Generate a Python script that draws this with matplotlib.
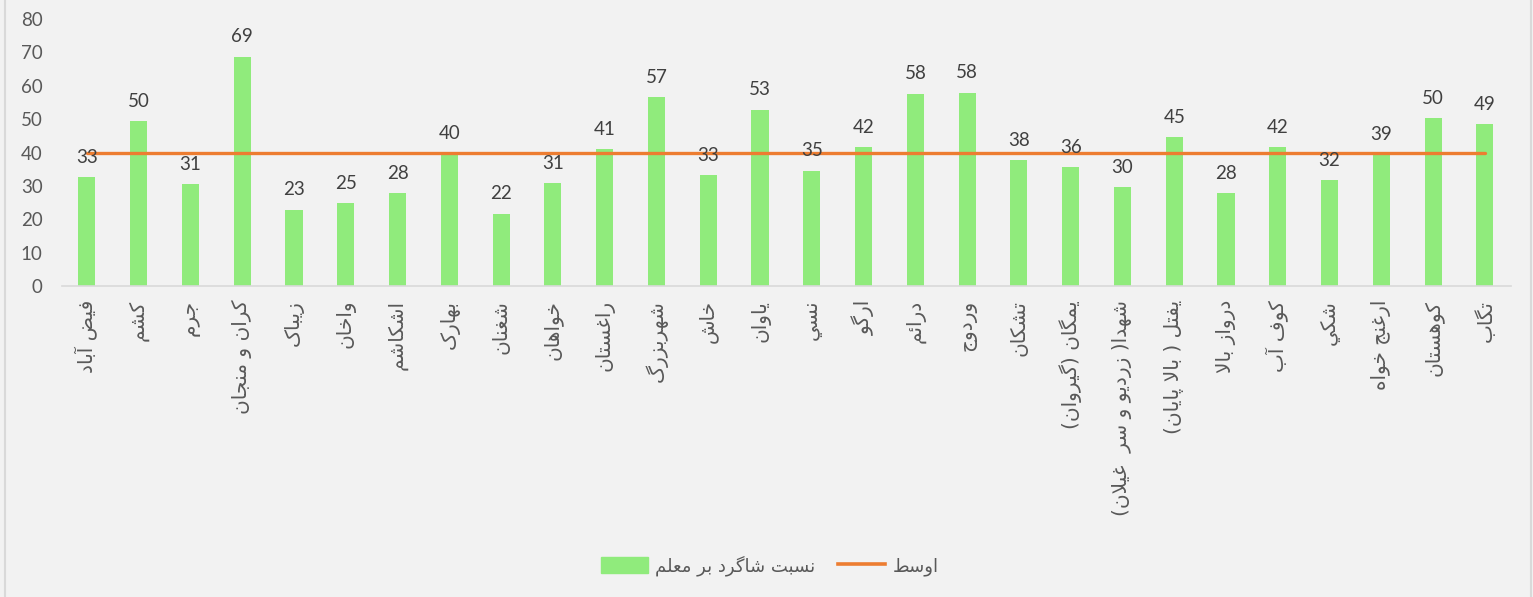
import numpy as np
import matplotlib
matplotlib.use('Agg')
import matplotlib.pyplot as plt
from matplotlib.lines import Line2D
from matplotlib.patches import Patch

# districts and ratio of students per teacher
districts = ['فیض آباد', 'کشم', 'جرم', 'کران و منجان', 'زیباک', 'واخان', 'اشکاشم',
             'بهارک', 'شغنان', 'خواهان', 'راغستان', 'شهربزرگ', 'خاش', 'یاوان',
             'نسي', 'ارگو', 'درائم', 'وردوج', 'تشکان', 'یمگان (گیروان)',
             'شهدا( زردیو و سر  غیلان)', 'یفتل ( بالا پایان)', 'درواز بالا',
             'کوف آب', 'شکي', 'ارغنج خواه', 'کوهستان', 'تگاب']
ratio = [32.7, 49.5, 30.6, 68.7, 22.9, 24.9, 27.9, 39.8, 21.7, 30.8, 41.1, 56.6,
         33.2, 52.8, 34.6, 41.7, 57.6, 57.9, 37.8, 35.6, 29.7, 44.7, 27.9, 41.7,
         31.8, 39.4, 50.3, 48.6]
average = [39.9] * len(ratio)

bar_name = 'نسبت شاگرد بر معلم'
line_name = 'اوسط'

# minimal arabic shaping: (isolated, final, initial, medial)
forms = {
    'ا': (0xFE8D, 0xFE8E, None, None), 'آ': (0xFE81, 0xFE82, None, None),
    'ب': (0xFE8F, 0xFE90, 0xFE91, 0xFE92), 'پ': (0xFB56, 0xFB57, 0xFB58, 0xFB59),
    'ت': (0xFE95, 0xFE96, 0xFE97, 0xFE98), 'ث': (0xFE99, 0xFE9A, 0xFE9B, 0xFE9C),
    'ج': (0xFE9D, 0xFE9E, 0xFE9F, 0xFEA0), 'چ': (0xFB7A, 0xFB7B, 0xFB7C, 0xFB7D),
    'ح': (0xFEA1, 0xFEA2, 0xFEA3, 0xFEA4), 'خ': (0xFEA5, 0xFEA6, 0xFEA7, 0xFEA8),
    'د': (0xFEA9, 0xFEAA, None, None), 'ذ': (0xFEAB, 0xFEAC, None, None),
    'ر': (0xFEAD, 0xFEAE, None, None), 'ز': (0xFEAF, 0xFEB0, None, None),
    'ژ': (0xFB8A, 0xFB8B, None, None),
    'س': (0xFEB1, 0xFEB2, 0xFEB3, 0xFEB4), 'ش': (0xFEB5, 0xFEB6, 0xFEB7, 0xFEB8),
    'ص': (0xFEB9, 0xFEBA, 0xFEBB, 0xFEBC), 'ض': (0xFEBD, 0xFEBE, 0xFEBF, 0xFEC0),
    'ط': (0xFEC1, 0xFEC2, 0xFEC3, 0xFEC4), 'ظ': (0xFEC5, 0xFEC6, 0xFEC7, 0xFEC8),
    'ع': (0xFEC9, 0xFECA, 0xFECB, 0xFECC), 'غ': (0xFECD, 0xFECE, 0xFECF, 0xFED0),
    'ف': (0xFED1, 0xFED2, 0xFED3, 0xFED4), 'ق': (0xFED5, 0xFED6, 0xFED7, 0xFED8),
    'ک': (0xFB8E, 0xFB8F, 0xFB90, 0xFB91), 'گ': (0xFB92, 0xFB93, 0xFB94, 0xFB95),
    'ل': (0xFEDD, 0xFEDE, 0xFEDF, 0xFEE0), 'م': (0xFEE1, 0xFEE2, 0xFEE3, 0xFEE4),
    'ن': (0xFEE5, 0xFEE6, 0xFEE7, 0xFEE8), 'ه': (0xFEE9, 0xFEEA, 0xFEEB, 0xFEEC),
    'و': (0xFEED, 0xFEEE, None, None),
    'ی': (0xFBFC, 0xFBFD, 0xFBFE, 0xFBFF), 'ي': (0xFEF1, 0xFEF2, 0xFEF3, 0xFEF4),
    'ئ': (0xFE89, 0xFE8A, 0xFE8B, 0xFE8C),
}
lam_alef = {'ا': (0xFEFB, 0xFEFC), 'آ': (0xFEF5, 0xFEF6)}
mirror = {'(': ')', ')': '('}


def joins_next(ch):
    return ch in forms and forms[ch][2] is not None


def shape(text):
    chars = list(text)
    out = []
    i = 0
    while i < len(chars):
        c = chars[i]
        if c not in forms:
            out.append(mirror.get(c, c))
            i += 1
            continue
        prev = chars[i - 1] if i > 0 else ''
        after_join = joins_next(prev)
        if c == 'ل' and i + 1 < len(chars) and chars[i + 1] in lam_alef:
            iso, fin = lam_alef[chars[i + 1]]
            out.append(chr(fin if after_join else iso))
            i += 2
            continue
        nxt = chars[i + 1] if i + 1 < len(chars) else ''
        before_join = joins_next(c) and nxt in forms
        iso, fin, ini, med = forms[c]
        if after_join and before_join:
            f = med
        elif after_join:
            f = fin
        elif before_join:
            f = ini
        else:
            f = iso
        out.append(chr(f))
        i += 1
    return ''.join(out[::-1])


plt.rcParams['font.family'] = ['Lato', 'DejaVu Sans']
text_color = '#595959'
bg = '#f2f2f2'

fig = plt.figure(figsize=(15.33, 5.97), dpi=100, facecolor=bg)
ax = fig.add_axes([0.0405, 0.521, 0.945, 0.447])
ax.set_facecolor(bg)

x = np.arange(len(ratio))
bars = ax.bar(x, ratio, width=0.33, color='#90eb7c', zorder=2)
ax.plot(x, average, color='#ed7d31', lw=2.4, solid_capstyle='round', zorder=3)

for xi, v in zip(x, ratio):
    ax.text(xi, v + 3.4, '%.0f' % v, ha='center', va='bottom',
            fontsize=13.5, color='#404040')

ax.set_xlim(-0.48, 27.5)
ax.set_ylim(0, 80)
ax.set_yticks(range(0, 81, 10))
ax.tick_params(axis='y', length=0, labelsize=13.5, labelcolor=text_color, pad=14)
ax.set_xticks(x)
ax.set_xticklabels([shape(d) for d in districts], rotation=90,
                   fontsize=14.5, color=text_color, family=['DejaVu Sans'])
ax.tick_params(axis='x', length=0, pad=10)
for s in ['top', 'right', 'left']:
    ax.spines[s].set_visible(False)
ax.spines['bottom'].set_color('#d9d9d9')
ax.spines['bottom'].set_linewidth(1.2)

handles = [Patch(color='#90eb7c'), Line2D([0], [0], color='#ed7d31', lw=2.6)]
leg = fig.legend(handles, [shape(bar_name), shape(line_name)], ncol=2,
                 loc='center', bbox_to_anchor=(0.502, 0.053), frameon=False,
                 handlelength=2.6, handleheight=1.0,
                 columnspacing=1.3, handletextpad=0.4,
                 prop={'family': ['DejaVu Sans'], 'size': 13})
for t in leg.get_texts():
    t.set_color(text_color)

# chart border lines at the sides
fig.add_artist(Line2D([0.0033, 0.0033], [0, 1], color='#d9d9d9', lw=1.5))
fig.add_artist(Line2D([0.9985, 0.9985], [0, 1], color='#d9d9d9', lw=1.5))

fig.savefig('out.png', dpi=100, facecolor=bg)
